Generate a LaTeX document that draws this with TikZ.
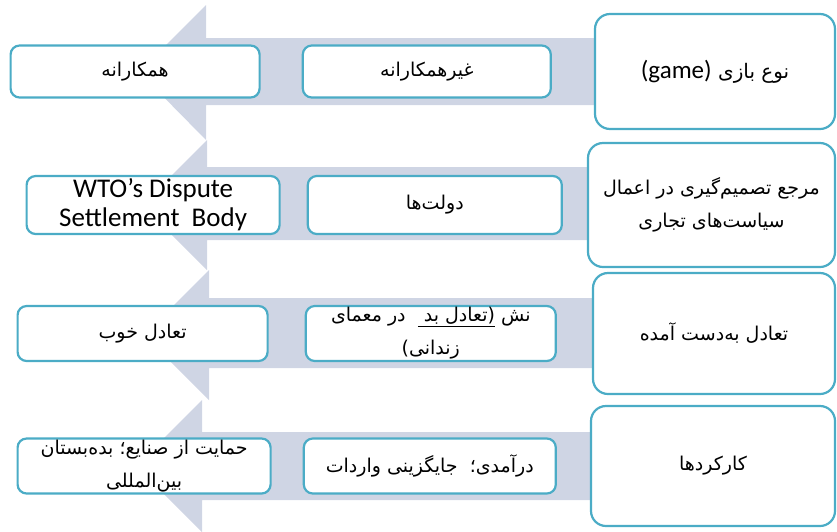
\documentclass[tikz,border=0pt]{standalone}
\usepackage{fontspec}
\usetikzlibrary{positioning}
\TeXXeTstate=1
\newfontfamily\farsi[Script=Arabic]{DejaVu Sans}
\newfontfamily\latin{Carlito}
\newcommand{\fa}[1]{\beginR #1\endR}
\definecolor{bandfill}{RGB}{207,213,228}
\definecolor{boxline}{RGB}{75,172,198}

\begin{document}
\begin{tikzpicture}[x=1pt,y=-1pt,
  cat/.style={draw=boxline,line width=2.2pt,fill=white,rounded corners=15pt,
    minimum width=242pt,minimum height=120pt,inner sep=0pt,align=center,
    font=\farsi\fontsize{19}{33}\selectfont},
  opt/.style={draw=boxline,line width=2.2pt,fill=white,rounded corners=9pt,
    minimum width=251pt,minimum height=55pt,inner xsep=0pt,inner ysep=-20pt,
    align=center,font=\farsi\fontsize{19}{33}\selectfont},
  band/.style={fill=bandfill}]
\useasboundingbox (0,0) rectangle (837,531);

% wide arrows behind the rows
\fill[band] (620,38) -- (206,38) -- (206,5) -- (139,72) -- (206,140) -- (206,105) -- (620,105) -- cycle;
\fill[band] (620,167) -- (207,167) -- (207,140) -- (142,205) -- (207,270) -- (207,240) -- (620,240) -- cycle;
\fill[band] (620,298) -- (209,298) -- (209,270) -- (144,335) -- (209,400) -- (209,368) -- (620,368) -- cycle;
\fill[band] (620,432) -- (202,432) -- (202,400) -- (136,466) -- (202,532) -- (202,500) -- (620,500) -- cycle;

% row 1
\node (kind) [cat,minimum width=240pt,minimum height=115pt,font=\farsi\fontsize{20}{33}\selectfont] at (715,71.5)
  {\fa{نوع بازی \beginL{\latin\fontsize{25}{28}\selectfont (game)}\endL}};
\node (noncoop) [opt,minimum width=248pt,minimum height=52pt,left=42pt of kind] {\fa{غیرهمکارانه}};
\node (coop) [opt,minimum width=249pt,minimum height=52pt,left=41pt of noncoop] {\fa{همکارانه}};

% row 2
\node (ref) [cat,minimum width=247pt,minimum height=124pt] at (711.5,205)
  {\fa{مرجع تصمیم‌گیری در اعمال}\\\fa{سیاست‌های تجاری}};
\node (govts) [opt,minimum width=254pt,minimum height=58pt,left=24pt of ref] {\fa{دولت‌ها}};
\node (dsb) [opt,minimum width=253pt,minimum height=58pt,left=26pt of govts,
  font=\latin\fontsize{27}{29}\selectfont] {WTO’s Dispute\\Settlement\ \ Body};

% row 3
\node (eq) [cat,minimum width=242pt,minimum height=121pt] at (714,333.5)
  {\fa{تعادل به‌دست آمده}};
\node (bad) [opt,minimum width=250pt,left=35pt of eq]
  {\fa{نش $\underline{\hbox{\beginR(تعادل بد\ \endR}}$\ \ در معمای}\\\fa{زندانی)}};
\node (good) [opt,minimum width=250pt,left=36pt of bad] {\fa{تعادل خوب}};

% row 4
\node (func) [cat,minimum width=244pt,minimum height=120pt] at (713,466)
  {\fa{کارکردها}};
\node (revenue) [opt,minimum width=252pt,left=33pt of func] {\fa{درآمدی؛\ \ جایگزینی واردات}};
\node (protect) [opt,minimum width=253pt,left=31pt of revenue]
  {\fa{حمایت از صنایع؛ بده‌بستان}\\\fa{بین‌المللی}};
\end{tikzpicture}
\end{document}
